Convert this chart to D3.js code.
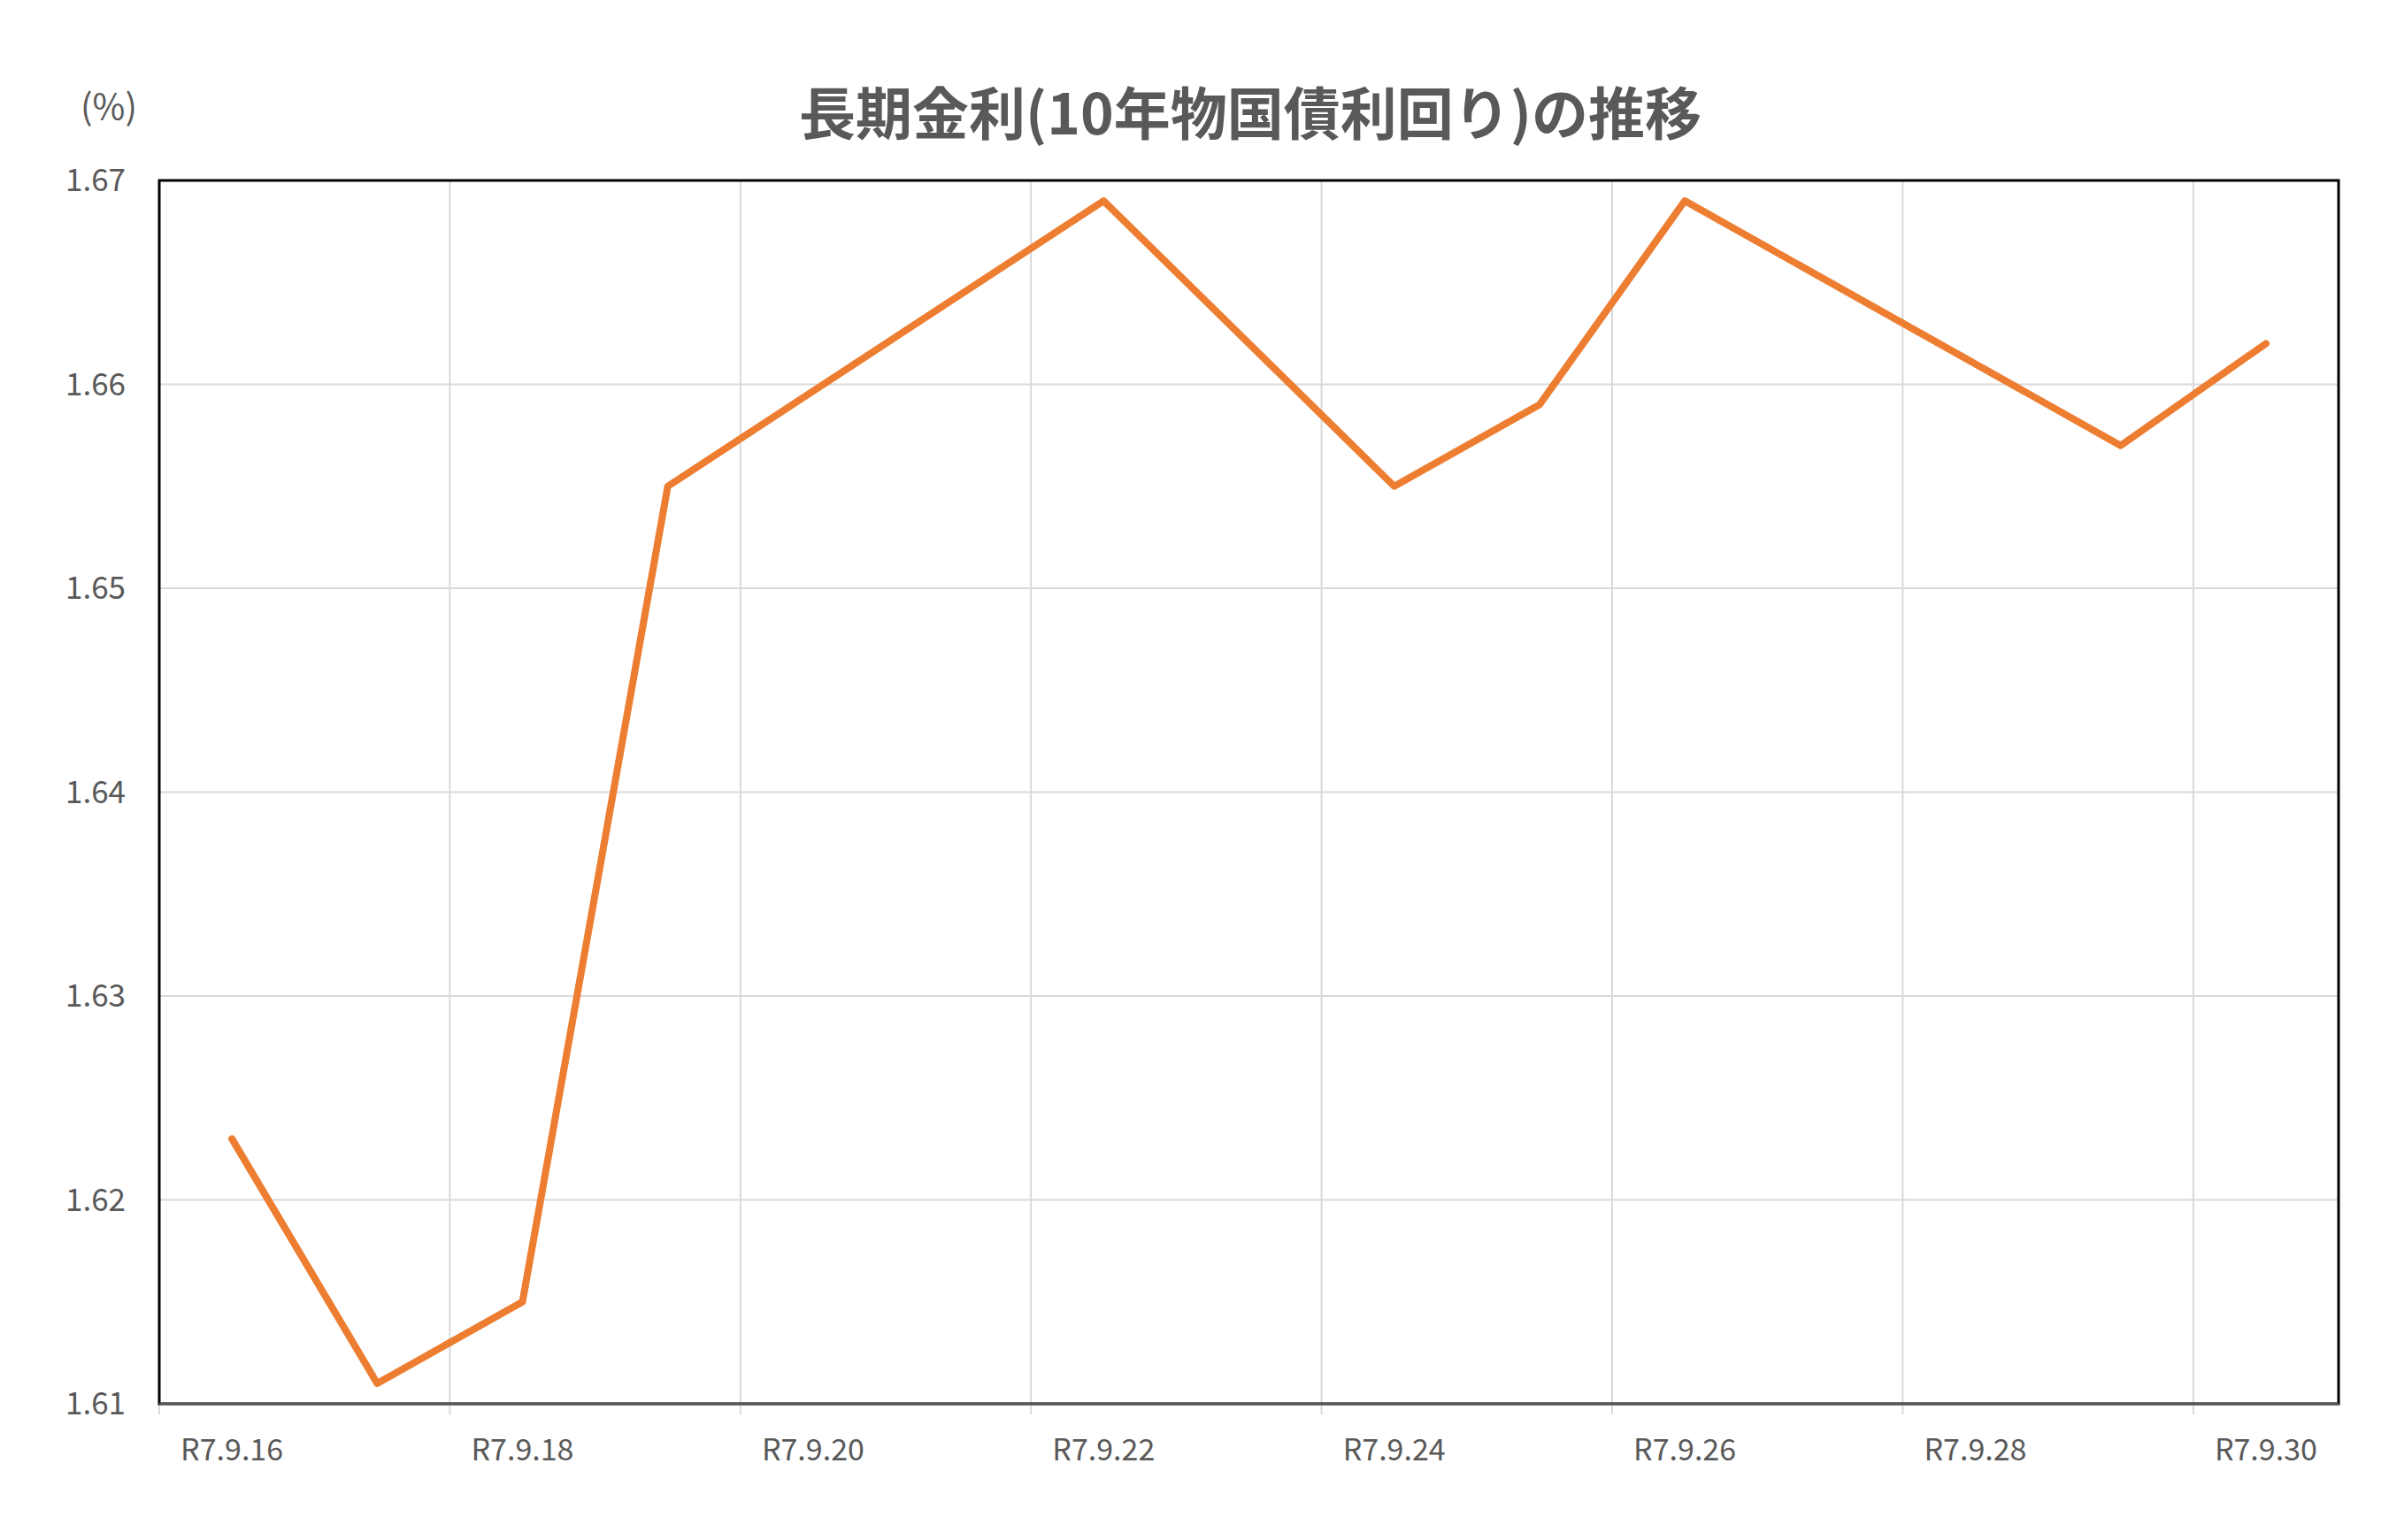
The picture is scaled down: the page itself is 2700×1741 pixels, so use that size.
<!DOCTYPE html>
<html><head><meta charset="utf-8">
<script src="https://cdn.jsdelivr.net/npm/d3@7"></script>
<style>body{margin:0;background:#fff}text{font-family:"Noto Sans CJK JP","Noto Sans",sans-serif}</style>
</head><body><svg id="c" width="2700" height="1741"></svg>
<script>
// data (R7.9.x days)
var days = [16, 17, 18, 19, 22, 24, 25, 26, 29, 30];
var yields = [1.623, 1.611, 1.615, 1.655, 1.669, 1.655, 1.659, 1.669, 1.657, 1.662];
var yTicks = [1.61, 1.62, 1.63, 1.64, 1.65, 1.66, 1.67];
var xTickDays = [16, 18, 20, 22, 24, 26, 28, 30];

var margin = {top: 204, right: 57, bottom: 154, left: 180},
  width = 2700 - margin.left - margin.right,
  height = 1741 - margin.top - margin.bottom;

var svg = d3.select('#c');
var g = svg.append('g').attr('transform', 'translate(' + margin.left + ',' + margin.top + ')');

var x = d3.scaleLinear().domain([16, 31]).range([0, width]);
var y = d3.scaleLinear().domain([1.61, 1.67]).range([height, 0]);

// grid
g.selectAll('.hg').data(yTicks).enter().append('line')
  .attr('x1', 0).attr('x2', width)
  .attr('y1', function(d) { return y(d); }).attr('y2', function(d) { return y(d); })
  .attr('stroke', '#d9d9d9').attr('stroke-width', 2);
g.selectAll('.vg').data(xTickDays).enter().append('line')
  .attr('x1', function(d) { return x(d); }).attr('x2', function(d) { return x(d); })
  .attr('y1', 0).attr('y2', height + 12)
  .attr('stroke', '#d9d9d9').attr('stroke-width', 2);

// frame
g.append('rect').attr('width', width).attr('height', height)
  .attr('fill', 'none').attr('stroke', '#000').attr('stroke-width', 3);
g.append('line').attr('x1', 0).attr('x2', width).attr('y1', height).attr('y2', height)
  .attr('stroke', '#595959').attr('stroke-width', 3);

// y labels
g.selectAll('.yl').data(yTicks).enter().append('text')
  .attr('x', -38).attr('y', function(d) { return y(d); }).attr('dy', '0.35em')
  .attr('text-anchor', 'end').attr('font-size', 35).attr('fill', '#595959')
  .text(function(d) { return d3.format('.2f')(d); });

// x labels
g.selectAll('.xl').data(xTickDays).enter().append('text')
  .attr('x', function(d) { return x(d + 0.5); }).attr('y', height + 52)
  .attr('dy', '0.35em')
  .attr('text-anchor', 'middle').attr('font-size', 34).attr('fill', '#595959')
  .text(function(d) { return 'R7.9.' + d; });

// line
var line = d3.line()
  .x(function(d, i) { return x(days[i] + 0.5); })
  .y(function(d) { return y(d); });
g.append('path').datum(yields).attr('d', line)
  .attr('fill', 'none').attr('stroke', '#ed7d31').attr('stroke-width', 8)
  .attr('stroke-linejoin', 'round').attr('stroke-linecap', 'round');

// title and unit
svg.append('text').attr('x', 1413).attr('y', 130).attr('dy', '0.35em')
  .attr('text-anchor', 'middle').attr('font-size', 64).attr('font-weight', 'bold')
  .attr('fill', '#595959').text('長期金利(10年物国債利回り)の推移');
svg.append('text').attr('x', 123).attr('y', 121).attr('dy', '0.35em')
  .attr('text-anchor', 'middle').attr('font-size', 40).attr('fill', '#595959')
  .text('(%)');
</script></body></html>
